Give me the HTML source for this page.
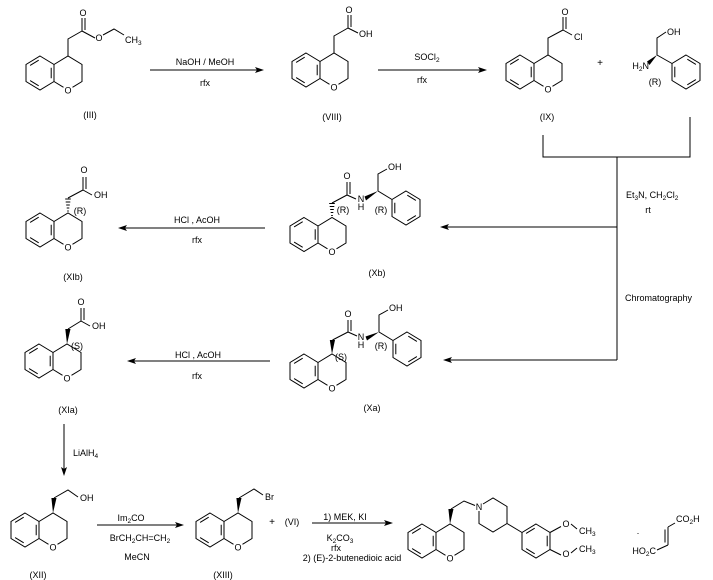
<!DOCTYPE html>
<html><head><meta charset="utf-8"><style>
html,body{margin:0;padding:0;background:#fff;}
svg{display:block;}
text{font-family:"Liberation Sans",Arial,sans-serif;font-size:9px;fill:#000;}
.m{text-anchor:middle;}
.e{text-anchor:end;}
</style></head><body>
<svg width="713" height="580" viewBox="0 0 713 580" xmlns="http://www.w3.org/2000/svg">
<defs>
<g id="chr" fill="none" stroke="#000" stroke-width="1">
<path d="M-28,-17 L-14,-8.5 L-14,8.5 L-28,17 L-42,8.5 L-42,-8.5 Z"/>
<path d="M-14,-8.5 L0,-17 L14,-8.5 L14,8.5 L4.5,14.3 M-4.5,14.3 L-14,8.5"/>
<path d="M-37.9,-7.6 L-29.3,-12.8 M-29.3,12.8 L-37.9,7.6 M-16.8,-5.2 L-16.8,5.2"/>
</g>
<g id="ph" fill="none" stroke="#000" stroke-width="1">
<path d="M0,-17 L14,-8.5 L14,8.5 L0,17 L-14,8.5 L-14,-8.5 Z"/>
<path d="M1.3,-12.8 L9.9,-7.6 M9.9,7.6 L1.3,12.8 M-11.2,5.2 L-11.2,-5.2"/>
</g>
<g id="ar" fill="none" stroke="#000" stroke-width="1">
<path d="M0,-17 L14,-8.5 L14,8.5 L0,17 L-14,8.5 L-14,-8.5 Z"/>
<path d="M-9.9,-7.6 L-1.3,-12.8 M11.2,-5.2 L11.2,5.2 M-1.3,12.8 L-9.9,7.6"/>
</g>
</defs>

<!-- ring systems -->
<use href="#chr" x="68" y="73"/>
<use href="#chr" x="334" y="70"/>
<use href="#chr" x="548" y="72"/>
<use href="#chr" x="68" y="230"/>
<use href="#chr" x="332" y="234.5"/>
<use href="#chr" x="67" y="361"/>
<use href="#chr" x="332" y="371"/>
<use href="#chr" x="53" y="530"/>
<use href="#chr" x="238" y="530"/>
<use href="#chr" x="450" y="541"/>
<use href="#ph" x="686" y="72"/>
<use href="#ph" x="406" y="208"/>
<use href="#ph" x="407" y="349"/>
<use href="#ar" x="536" y="541"/>

<g fill="none" stroke="#000" stroke-width="1">
<!-- III -->
<path d="M68,56 L68,39 L82,31 M82,31 L82,18 M85,30 L85,18 M82,31 L95,38 M103,35 L114,29 L124,35"/>
<!-- VIII -->
<path d="M334,53 L334,36 L348,28 M348,28 L348,15 M351,27 L351,15 M348,28 L358,33"/>
<!-- IX -->
<path d="M548,55 L548,38 L563,30 M563,30 L563,17 M566,29 L566,17 M563,30 L572,35"/>
<!-- amino alcohol -->
<path d="M657,55 L657,38 L666,32 M657,55 L672,63.5"/>
<!-- XIb -->
<path d="M67.2,211 L68.8,211 M66.7,208 L69.3,208 M66.2,205 L69.8,205 M65.7,202 L70.3,202 M65.2,199 L70.8,199"/>
<path d="M68,198 L83,190 M83,190 L83,177 M86,189 L86,177 M83,190 L92,195"/>
<!-- Xb -->
<path d="M331.2,215.5 L332.8,215.5 M330.7,212.5 L333.3,212.5 M330.2,209.5 L333.8,209.5 M329.7,206.5 L334.3,206.5 M329.2,203.5 L334.8,203.5"/>
<path d="M332,203 L347,195 M347,195 L347,182 M350,194 L350,182 M347,195 L356,199"/>
<path d="M378,191 L378,174 L387,169 M378,191 L392,199.5"/>
<!-- Xa -->
<path d="M332.5,340 L348,332 M348,332 L348,320 M351,331 L351,320 M348,332 L357,336"/>
<path d="M379,332 L379,315 L388,310 M379,332 L393,340.5"/>
<!-- XIa -->
<path d="M68,329 L81,321 M81,321 L81,308 M84,320 L84,308 M81,321 L90,326"/>
<!-- XII -->
<path d="M54,498 L68,490 L78,497"/>
<!-- XIII -->
<path d="M239,498 L254,489 L263,495"/>
<!-- final -->
<path d="M451,509 L464,501 L475,505.5"/>
<path d="M483,504 L493,498 L507,506.5 L507,523.5 L493,532 L479,523.5 L479,511"/>
<path d="M507,523.5 L522,532.5"/>
<path d="M550,532.5 L561,526.5 M571,524 L577,529 M550,549.5 L561,555 M571,553 L577,548"/>
<!-- fumaric -->
<path d="M668,527 L668,545 M665,529.5 L665,542.5 M668,527 L675,523 M668,545 L657,550"/>
</g>
<g fill="none" stroke="#000" stroke-width="1" shape-rendering="crispEdges">
<!-- arrows -->
<path d="M150,70 L258,70 M378,70 L481,70 M265,228 L124,228 M617,227 L446,227 M270,361 L133,361 M617,360 L449,360 M64,424 L64,470 M97,525 L178,525 M312,523 L387,523"/>
<!-- bracket -->
<path d="M543,135 L543,157 L690,157 L690,117 M617,157 L617,360"/>
</g>

<g fill="#000" stroke="none">
<!-- wedges -->
<polygon points="657,55 647,61.5 649.5,65"/>
<polygon points="378,191 364.5,196.5 366,200.5"/>
<polygon points="379,332 365.5,336.5 367,340.5"/>
<polygon points="332,354 329.8,340 335,340"/>
<polygon points="67,344 65.3,329 70.5,329"/>
<polygon points="53,513 51.4,498 56.5,498"/>
<polygon points="238,513 236.4,498 241.5,498"/>
<polygon points="450,524 448.4,509 453.5,509"/>
<!-- arrowheads -->
<polygon points="264,70 255,67 257,70 255,73"/>
<polygon points="487,70 478,67 480,70 478,73"/>
<polygon points="118,228 127,225 125,228 127,231"/>
<polygon points="440,227 449,224 447,227 449,230"/>
<polygon points="127,361 136,358 134,361 136,364"/>
<polygon points="443,360 452,357 450,360 452,363"/>
<polygon points="64,476 61,467 64,469 67,467"/>
<polygon points="184,525 175,522 177,525 175,528"/>
<polygon points="393,523 384,520 386,523 384,526"/>
</g>

<!-- ring O labels -->
<text class="m" x="68" y="93.5">O</text>
<text class="m" x="334" y="90.5">O</text>
<text class="m" x="548" y="92.5">O</text>
<text class="m" x="68" y="250.5">O</text>
<text class="m" x="332" y="255">O</text>
<text class="m" x="67" y="381.5">O</text>
<text class="m" x="332" y="391.5">O</text>
<text class="m" x="53" y="550.5">O</text>
<text class="m" x="238" y="550.5">O</text>
<text class="m" x="450" y="561.5">O</text>

<!-- III -->
<text class="m" x="83" y="16">O</text>
<text class="m" x="99" y="41">O</text>
<text x="125" y="43">CH<tspan font-size="6.5" dy="2">3</tspan></text>
<text class="m" x="90" y="118">(III)</text>
<text class="m" x="205" y="65">NaOH / MeOH</text>
<text class="m" x="205" y="86">rfx</text>
<!-- VIII -->
<text class="m" x="349" y="13">O</text>
<text x="359" y="37">OH</text>
<text class="m" x="332" y="120">(VIII)</text>
<text class="m" x="427" y="60">SOCl<tspan font-size="6.5" dy="2">2</tspan></text>
<text class="m" x="422" y="83">rfx</text>
<!-- IX -->
<text class="m" x="565" y="15">O</text>
<text x="574" y="40">Cl</text>
<text class="m" x="547" y="120">(IX)</text>
<text class="m" x="600" y="66" style="font-size:10px">+</text>
<text class="e" x="649" y="69">H<tspan font-size="6.5" dy="2">2</tspan><tspan dy="-2">N</tspan></text>
<text x="667" y="35">OH</text>
<text class="m" x="655" y="85">(R)</text>
<text x="626" y="198">Et<tspan font-size="6.5" dy="2">3</tspan><tspan dy="-2">N, CH</tspan><tspan font-size="6.5" dy="2">2</tspan><tspan dy="-2">Cl</tspan><tspan font-size="6.5" dy="2">2</tspan></text>
<text class="m" x="648" y="213">rt</text>
<text x="625" y="301">Chromatography</text>

<!-- XIb -->
<text class="m" x="84" y="173">O</text>
<text x="94" y="198">OH</text>
<text class="m" x="80" y="214">(R)</text>
<text class="m" x="73" y="280">(XIb)</text>
<text class="m" x="197" y="223">HCl , AcOH</text>
<text class="m" x="197" y="243">rfx</text>
<!-- Xb -->
<text class="m" x="347" y="179">O</text>
<text class="m" x="361" y="202">N</text>
<text class="m" x="361" y="210">H</text>
<text x="388" y="170">OH</text>
<text class="m" x="343" y="213">(R)</text>
<text class="m" x="381" y="213">(R)</text>
<text class="m" x="377" y="276">(Xb)</text>

<!-- XIa -->
<text class="m" x="81" y="305">O</text>
<text x="92" y="329">OH</text>
<text class="m" x="77" y="349">(S)</text>
<text class="m" x="68" y="413">(XIa)</text>
<text class="m" x="198" y="358">HCl , AcOH</text>
<text class="m" x="197" y="379">rfx</text>
<!-- Xa -->
<text class="m" x="348" y="317">O</text>
<text class="m" x="361" y="340">N</text>
<text class="m" x="361" y="348">H</text>
<text x="389" y="311">OH</text>
<text class="m" x="341" y="360">(S)</text>
<text class="m" x="381" y="349">(R)</text>
<text class="m" x="372" y="411">(Xa)</text>
<text x="73" y="456">LiAlH<tspan font-size="6.5" dy="2">4</tspan></text>

<!-- XII -->
<text x="80" y="501">OH</text>
<text class="m" x="38" y="578">(XII)</text>
<text class="m" x="131" y="521">Im<tspan font-size="6.5" dy="2">2</tspan><tspan dy="-2">CO</tspan></text>
<text class="m" x="140" y="541">BrCH<tspan font-size="6.5" dy="2">2</tspan><tspan dy="-2">CH=CH</tspan><tspan font-size="6.5" dy="2">2</tspan></text>
<text class="m" x="137" y="560">MeCN</text>
<!-- XIII -->
<text x="265" y="500">Br</text>
<text class="m" x="223" y="578">(XIII)</text>
<text class="m" x="272" y="525" style="font-size:10px">+</text>
<text class="m" x="292" y="525">(VI)</text>
<text class="m" x="345" y="520">1) MEK, KI</text>
<text class="m" x="340" y="541">K<tspan font-size="6.5" dy="2">2</tspan><tspan dy="-2">CO</tspan><tspan font-size="6.5" dy="2">3</tspan></text>
<text class="m" x="336" y="551">rfx</text>
<text class="m" x="352" y="561">2) (E)-2-butenedioic acid</text>
<!-- final -->
<text class="m" x="479" y="510">N</text>
<text class="m" x="566" y="527">O</text>
<text x="579" y="534">CH<tspan font-size="6.5" dy="2">3</tspan></text>
<text class="m" x="566" y="557">O</text>
<text x="579" y="552">CH<tspan font-size="6.5" dy="2">3</tspan></text>
<text class="m" x="638" y="534">.</text>
<text x="676" y="522">CO<tspan font-size="6.5" dy="2">2</tspan><tspan dy="-2">H</tspan></text>
<text class="e" x="656" y="554">HO<tspan font-size="6.5" dy="2">2</tspan><tspan dy="-2">C</tspan></text>
</svg>
</body></html>
